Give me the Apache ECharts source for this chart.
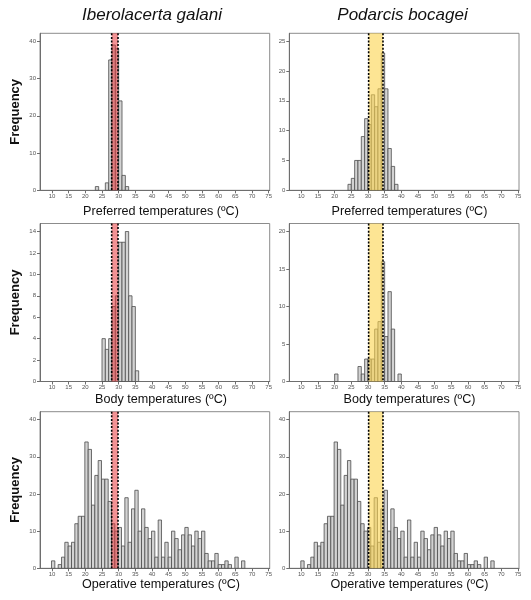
<!DOCTYPE html>
<html><head><meta charset="utf-8">
<script src="https://cdn.jsdelivr.net/npm/echarts@6/dist/echarts.min.js"></script>
<style>html,body{margin:0;padding:0;background:#fff}#c{width:531px;height:600px}</style>
</head><body><div id="c"></div><script>
// ---------- data ----------
const species = ['Iberolacerta galani', 'Podarcis bocagei'];
const rowTitles = ['Preferred temperatures (ºC)', 'Body temperatures (ºC)', 'Operative temperatures (ºC)'];
const yTitle = 'Frequency';
const xTicks = [10, 15, 20, 25, 30, 35, 40, 45, 50, 55, 60, 65, 70, 75];

// Iberolacerta galani - preferred temperatures (1 ºC bins, bin start)
const igPrefBins = [23, 26, 27, 28, 29, 30, 31, 32];
const igPrefFreq = [1, 2, 35, 39, 38, 24, 4, 1];
// Podarcis bocagei - preferred temperatures
const pbPrefBins = [24, 25, 26, 27, 28, 29, 30, 31, 32, 33, 34, 35, 36, 37, 38];
const pbPrefFreq = [1, 2, 5, 5, 9, 12, 11, 16, 14, 17, 23, 17, 7, 4, 1];
// Iberolacerta galani - body temperatures
const igBodyBins = [25, 26, 27, 28, 29, 30, 31, 32, 33, 34, 35];
const igBodyFreq = [4, 3, 4, 7, 8, 13, 13, 14, 8, 7, 1];
// Podarcis bocagei - body temperatures
const pbBodyBins = [20, 27, 28, 29, 30, 31, 32, 33, 34, 35, 36, 37, 39];
const pbBodyFreq = [1, 2, 1, 3, 3, 3, 7, 8, 16, 6, 12, 7, 1];
// Operative temperatures (same sample shown for both species)
const opBins = [10, 12, 13, 14, 15, 16, 17, 18, 19, 20, 21, 22, 23, 24, 25, 26, 27, 28, 29, 30,
  31, 32, 33, 34, 35, 36, 37, 38, 39, 40, 41, 42, 43, 44, 45, 46, 47, 48, 49, 50,
  51, 52, 53, 54, 55, 56, 57, 58, 59, 60, 61, 62, 63, 65, 67];
const opFreq = [2, 1, 3, 7, 6, 7, 12, 14, 14, 34, 32, 17, 25, 29, 24, 24, 18, 12, 10, 11,
  6, 19, 7, 16, 21, 10, 16, 11, 8, 10, 3, 13, 3, 7, 3, 10, 8, 5, 9, 11,
  9, 6, 10, 8, 10, 4, 2, 2, 4, 1, 1, 2, 1, 3, 2];

// preferred temperature range (Tset) bands
const igBand = [27.9, 29.8];
const pbBand = [30.2, 34.5];

// y tick labels
const igPrefY = [0, 10, 20, 30, 40];
const pbPrefY = [0, 5, 10, 15, 20, 25];
const igBodyY = [0, 2, 4, 6, 8, 10, 12, 14];
const pbBodyY = [0, 5, 10, 15, 20];
const opY = [0, 10, 20, 30, 40];

// ---------- layout ----------
const colLeft = [40, 289.3];
const plotW = 229.7;
const rowTop = [33.3, 223.5, 411.7];
const rowH = [157, 158, 156.6];
const xMin = 6.4, xMax = 75.3;
const bandFill = ['rgba(232,56,60,0.55)', 'rgba(252,211,77,0.6)'];
const FONT = "'Liberation Sans', Arial, Helvetica, sans-serif";

const panels = [
  {row: 0, col: 0, bins: igPrefBins, freq: igPrefFreq, yMax: 42.15, yTicks: igPrefY, band: igBand, off: 0},
  {row: 0, col: 1, bins: pbPrefBins, freq: pbPrefFreq, yMax: 26.3, yTicks: pbPrefY, band: pbBand, off: 0},
  {row: 1, col: 0, bins: igBodyBins, freq: igBodyFreq, yMax: 14.75, yTicks: igBodyY, band: igBand, off: 0},
  {row: 1, col: 1, bins: pbBodyBins, freq: pbBodyFreq, yMax: 21.1, yTicks: pbBodyY, band: pbBand, off: 0},
  {row: 2, col: 0, bins: opBins, freq: opFreq, yMax: 42.15, yTicks: opY, band: igBand, off: -0.15},
  {row: 2, col: 1, bins: opBins, freq: opFreq, yMax: 42.15, yTicks: opY, band: pbBand, off: -0.15}
];

const grid = [], xAxis = [], yAxis = [], series = [];
panels.forEach((p, i) => {
  grid.push({left: colLeft[p.col], top: rowTop[p.row], width: plotW, height: rowH[p.row],
    show: true, borderColor: '#8c8c8c', borderWidth: 1, backgroundColor: 'transparent'});
  xAxis.push({type: 'value', gridIndex: i, min: xMin, max: xMax,
    splitLine: {show: false},
    axisLine: {show: true, lineStyle: {color: '#6e6e6e', width: 1}},
    axisTick: {show: true, length: 3, customValues: xTicks, lineStyle: {color: '#6e6e6e'}},
    axisLabel: {show: true, customValues: xTicks, fontSize: 6, color: '#555', margin: 3, fontFamily: FONT}});
  yAxis.push({type: 'value', gridIndex: i, min: 0, max: p.yMax,
    splitLine: {show: false},
    axisLine: {show: true, lineStyle: {color: '#6e6e6e', width: 1}},
    axisTick: {show: true, length: 3, customValues: p.yTicks, lineStyle: {color: '#6e6e6e'}},
    axisLabel: {show: true, customValues: p.yTicks, fontSize: 6, color: '#555', margin: 4, fontFamily: FONT}});
  const off = p.off;
  series.push({type: 'custom', xAxisIndex: i, yAxisIndex: i, z: 2,
    data: p.bins.map((b, k) => [b, p.freq[k]]),
    renderItem: function (params, api) {
      const x = api.value(0), y = api.value(1);
      const a = api.coord([x + off, y]);
      const b = api.coord([x + off + 1, 0]);
      return {type: 'rect', shape: {x: a[0], y: a[1], width: b[0] - a[0], height: b[1] - a[1]},
        style: {fill: '#d3d3d3', stroke: '#4d4d4d', lineWidth: 0.8}};
    }});
  const fill = bandFill[p.col];
  series.push({type: 'custom', xAxisIndex: i, yAxisIndex: i, z: 5,
    data: [[p.band[0], p.band[1]]],
    encode: {x: [0, 1]},
    renderItem: function (params, api) {
      const cs = params.coordSys;
      const a = api.coord([api.value(0), 0])[0];
      const b = api.coord([api.value(1), 0])[0];
      const ls = {stroke: '#000', lineWidth: 1.6, lineDash: [2, 1.6]};
      return {type: 'group', children: [
        {type: 'rect', shape: {x: a, y: cs.y, width: b - a, height: cs.height}, style: {fill: fill}},
        {type: 'line', shape: {x1: a, y1: cs.y, x2: a, y2: cs.y + cs.height}, style: ls},
        {type: 'line', shape: {x1: b, y1: cs.y, x2: b, y2: cs.y + cs.height}, style: ls}
      ]};
    }});
});

const graphic = [];
const headerX = [152, 402.5];
species.forEach((s, c) => graphic.push({type: 'text', x: headerX[c], y: 15,
  style: {text: s, font: 'italic 17px ' + FONT, fill: '#111', align: 'center', verticalAlign: 'middle'}}));
const titleX = [161, 409.5];
const titleY = [211.7, 399.3, 584.3];
rowTitles.forEach((t, r) => [0, 1].forEach(c => graphic.push({type: 'text', x: titleX[c], y: titleY[r],
  style: {text: t, font: '12.6px ' + FONT, fill: '#111', align: 'center', verticalAlign: 'middle'}})));
rowTop.forEach((t, r) => graphic.push({type: 'text', x: 15, y: t + rowH[r] / 2, rotation: Math.PI / 2,
  style: {text: yTitle, font: 'bold 13px ' + FONT, fill: '#111', align: 'center', verticalAlign: 'middle'}}));

const chart = echarts.init(document.getElementById('c'));
chart.setOption({animation: false, backgroundColor: '#fff', grid, xAxis, yAxis, series, graphic});
</script></body></html>
